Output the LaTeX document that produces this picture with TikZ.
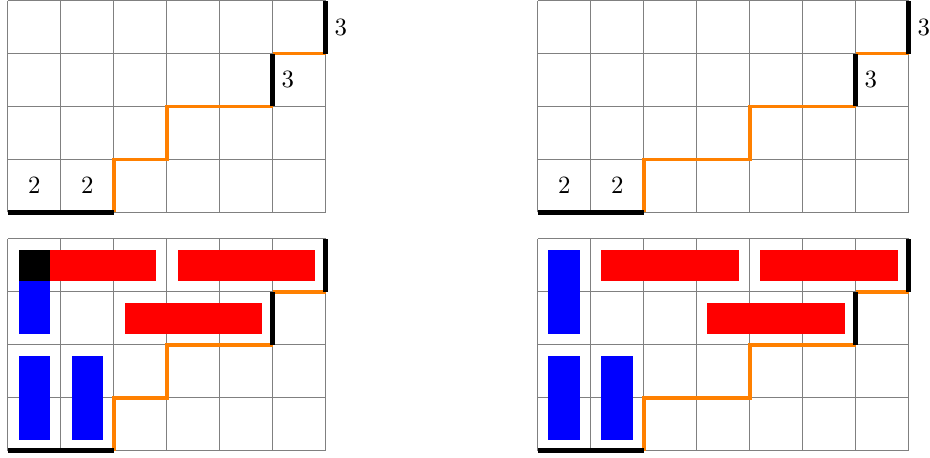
\documentclass[tikz,border=0pt]{standalone}
\usepackage{tikz}
\usetikzlibrary{positioning}

\begin{document}
\begin{tikzpicture}[scale = .75,
    gridline/.style = {gray, line width=.4pt},
    stair/.style = {orange, line width=1.6pt},
    wall/.style = {black, line width=2pt},
    hbar/.style = {fill=red},
    vbar/.style = {fill=blue}]
    \useasboundingbox (-0.15,-0.13) rectangle (17.4,8.51);
    % top left
    \begin{scope}[shift={(0,4.5)}]
    \draw[gridline] (0,0) grid (6,4);
    \draw[stair] (2,0)--(2,1)--(3,1)--(3,2)--(5,2);
    \draw[stair] (5,3)--(6,3);
    \draw[wall] (0,0)--(2,0);
    \draw[wall] (5,2)--(5,3);
    \draw[wall] (6,3)--(6,4);
    \node (tla) at (0.5,0.5) {$2$};
    \node (tlb) at (1.5,0.5) {$2$};
    \node[right] (tlc) at (5,2.5) {$3$};
    \node[right] (tld) at (6,3.5) {$3$};
    \end{scope}
    % top right
    \begin{scope}[shift={(10,4.5)}]
    \draw[gridline] (0,0) grid (7,4);
    \draw[stair] (2,0)--(2,1)--(4,1)--(4,2)--(6,2);
    \draw[stair] (6,3)--(7,3);
    \draw[wall] (0,0)--(2,0);
    \draw[wall] (6,2)--(6,3);
    \draw[wall] (7,3)--(7,4);
    \node (tra) at (0.5,0.5) {$2$};
    \node (trb) at (1.5,0.5) {$2$};
    \node[right] (trc) at (6,2.5) {$3$};
    \node[right] (trd) at (7,3.5) {$3$};
    \end{scope}
    % bottom left
    \draw[gridline] (0,0) grid (6,4);
    \fill[vbar] (0.2,2.2) rectangle (0.8,3.8);
    \fill[vbar] (0.2,0.2) rectangle (0.8,1.8);
    \fill[vbar] (1.2,0.2) rectangle (1.8,1.8);
    \fill[hbar] (0.2,3.2) rectangle (2.8,3.8);
    \fill[hbar] (3.2,3.2) rectangle (5.8,3.8);
    \fill[hbar] (2.2,2.2) rectangle (4.8,2.8);
    \fill[black] (0.2,3.2) rectangle (0.8,3.8);
    \draw[stair] (2,0)--(2,1)--(3,1)--(3,2)--(5,2);
    \draw[stair] (5,3)--(6,3);
    \draw[wall] (0,0)--(2,0);
    \draw[wall] (5,2)--(5,3);
    \draw[wall] (6,3)--(6,4);
    % bottom right
    \begin{scope}[shift={(10,0)}]
    \draw[gridline] (0,0) grid (7,4);
    \fill[vbar] (0.2,2.2) rectangle (0.8,3.8);
    \fill[vbar] (0.2,0.2) rectangle (0.8,1.8);
    \fill[vbar] (1.2,0.2) rectangle (1.8,1.8);
    \fill[hbar] (1.2,3.2) rectangle (3.8,3.8);
    \fill[hbar] (4.2,3.2) rectangle (6.8,3.8);
    \fill[hbar] (3.2,2.2) rectangle (5.8,2.8);
    \draw[stair] (2,0)--(2,1)--(4,1)--(4,2)--(6,2);
    \draw[stair] (6,3)--(7,3);
    \draw[wall] (0,0)--(2,0);
    \draw[wall] (6,2)--(6,3);
    \draw[wall] (7,3)--(7,4);
    \end{scope}
\end{tikzpicture}
\end{document}
